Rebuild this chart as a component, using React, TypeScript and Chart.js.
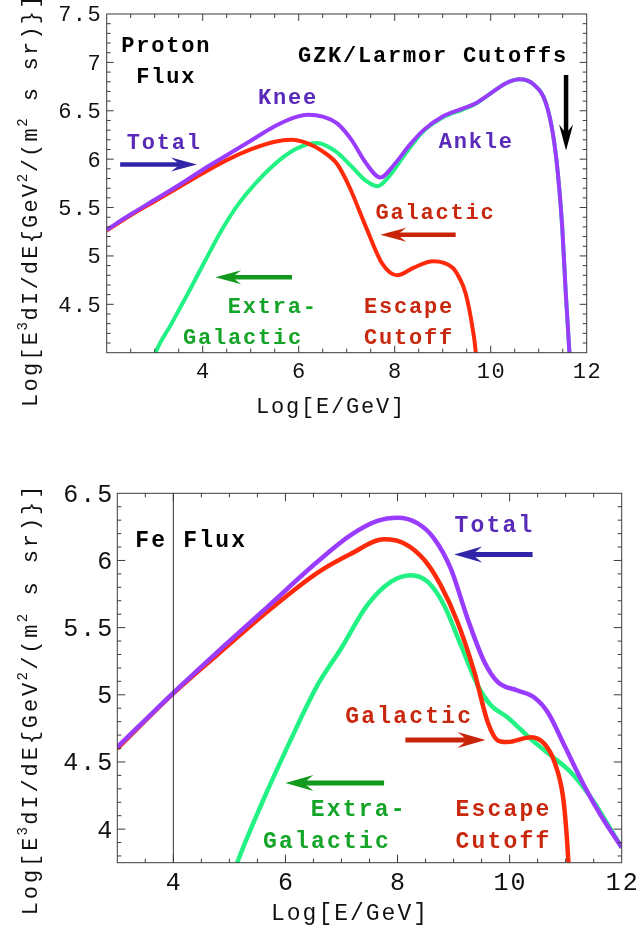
import React, { useEffect, useRef } from "react";
import { Chart, registerables } from "chart.js";

Chart.register(...registerables);

// ---------------- Proton flux panel (top) ----------------
const protonTotalX = [2.0, 2.5, 3.0, 3.5, 4.0, 4.5, 5.0, 5.5, 5.9, 6.2, 6.5, 6.8, 7.1, 7.4, 7.7, 8.0, 8.3, 8.6, 9.0, 9.4, 9.7, 10.0, 10.3, 10.6, 10.9, 11.15, 11.3, 11.4, 11.49, 11.56, 11.64, 11.67];
const protonTotalY = [5.27, 5.43, 5.58, 5.73, 5.89, 6.04, 6.19, 6.34, 6.43, 6.46, 6.44, 6.37, 6.2, 5.96, 5.81, 5.95, 6.14, 6.3, 6.44, 6.52, 6.58, 6.68, 6.78, 6.825, 6.77, 6.58, 6.25, 5.85, 5.3, 4.65, 4.0, 3.7];

const protonGalX = [2.0, 2.5, 3.0, 3.5, 4.0, 4.5, 5.0, 5.5, 5.85, 6.2, 6.5, 6.8, 7.05, 7.4, 7.74, 8.05, 8.4, 8.8, 9.2, 9.34, 9.48, 9.62, 9.69, 9.71];
const protonGalY = [5.262, 5.42, 5.565, 5.71, 5.855, 5.99, 6.1, 6.18, 6.2, 6.16, 6.08, 5.95, 5.72, 5.3, 4.92, 4.8, 4.88, 4.945, 4.88, 4.78, 4.61, 4.26, 3.99, 3.8];

const protonExtraX = [2.97, 3.0, 3.35, 3.7, 4.05, 4.4, 4.75, 5.1, 5.65, 6.0, 6.38, 6.77, 7.11, 7.39, 7.64, 7.88, 8.23, 8.58, 9.0, 9.4, 9.7, 10.0, 10.3, 10.6, 10.9, 11.15, 11.3, 11.4, 11.49, 11.56, 11.64, 11.67];
const protonExtraY = [3.93, 3.98, 4.3, 4.62, 4.95, 5.27, 5.54, 5.75, 6.01, 6.12, 6.166, 6.08, 5.92, 5.78, 5.72, 5.82, 6.06, 6.28, 6.43, 6.51, 6.575, 6.68, 6.78, 6.825, 6.77, 6.58, 6.25, 5.85, 5.3, 4.65, 4.0, 3.7];

const protonXRange = [2, 12];
const protonYRange = [4, 7.5];
const protonXLabels = [4, 6, 8, 10, 12];
const protonYLabels = [4.5, 5, 5.5, 6, 6.5, 7, 7.5];

// ---------------- Fe flux panel (bottom) ----------------
const feTotalX = [3.0, 4.0, 4.79, 5.68, 6.57, 7.17, 7.64, 8.0, 8.36, 8.65, 8.95, 9.25, 9.55, 9.79, 10.14, 10.44, 10.68, 10.98, 11.33, 11.63, 12.0];
const feTotalY = [4.61, 5.015, 5.32, 5.654, 5.99, 6.19, 6.294, 6.318, 6.276, 6.165, 5.94, 5.567, 5.244, 5.094, 5.032, 4.98, 4.87, 4.62, 4.323, 4.1, 3.863];

const feGalX = [3.0, 4.0, 4.79, 5.68, 6.57, 7.17, 7.76, 8.12, 8.48, 8.77, 9.07, 9.37, 9.61, 9.79, 9.96, 10.38, 10.62, 10.8, 10.95, 11.01, 11.05, 11.07];
const feGalY = [4.6, 5.01, 5.3, 5.62, 5.908, 6.05, 6.157, 6.127, 6.003, 5.816, 5.542, 5.17, 4.796, 4.66, 4.648, 4.684, 4.635, 4.5, 4.249, 4.0, 3.75, 3.6];

const feExtraX = [5.1, 5.14, 5.56, 6.1, 6.57, 6.99, 7.46, 7.88, 8.24, 8.54, 8.83, 9.13, 9.43, 9.67, 9.96, 10.38, 10.74, 11.1, 11.45, 12.0];
const feExtraY = [3.7, 3.75, 4.174, 4.67, 5.07, 5.343, 5.667, 5.84, 5.89, 5.84, 5.667, 5.369, 5.07, 4.92, 4.833, 4.67, 4.547, 4.42, 4.235, 3.863];

const feXRange = [3, 12];
const feYRange = [3.75, 6.5];
const feXLabels = [4, 6, 8, 10, 12];
const feYLabels = [4, 4.5, 5, 5.5, 6, 6.5];
const feMarkerX = 4;

const xMinorStep = 0.5;
const yMinorStep = 0.1;

// ---------------- styles ----------------
const PURPLE = "#9a3cff";
const RED = "#ff2a0a";
const GREEN = "#22f283";
const PURPLE_TEXT = "#5a2ab8";
const RED_TEXT = "#c8280e";
const GREEN_TEXT = "#14a428";
const BLUE_ARROW = "#3224a8";
const RED_ARROW = "#c82408";
const GREEN_ARROW = "#129a1e";
const MONO = '"Liberation Mono", "DejaVu Sans Mono", monospace';

interface TextNote { text: string; x: number; y: number; color: string; }
interface ArrowNote { x0: number; y0: number; x1: number; y1: number; color: string; }
interface Series { label: string; xs: number[]; ys: number[]; color: string; }
interface Panel {
  canvasH: number;
  area: { left: number; top: number; right: number; bottom: number };
  xRange: number[]; yRange: number[];
  xLabels: number[]; yLabels: number[];
  series: Series[];
  lineWidth: number;
  tickSize: number; tickPitch: number; yLabelGap: number; xLabelDrop: number;
  majorLen: number; minorLen: number;
  noteSize: number; notePitch: number;
  texts: TextNote[]; arrows: ArrowNote[];
  arrowWidth: number; headLen: number; headHalf: number;
  xTitle: { x: number; y: number; size: number; pitch: number };
  yTitle: { x: number; y: number; size: number; pitch: number; supSize: number; supPitch: number; supRaise: number };
  vline?: number;
}

const protonPanel: Panel = {
  canvasH: 440,
  area: { left: 106.7, top: 14, right: 586.7, bottom: 352.7 },
  xRange: protonXRange, yRange: protonYRange,
  xLabels: protonXLabels, yLabels: protonYLabels,
  series: [
    { label: "Total", xs: protonTotalX, ys: protonTotalY, color: PURPLE },
    { label: "Galactic", xs: protonGalX, ys: protonGalY, color: RED },
    { label: "Extra-Galactic", xs: protonExtraX, ys: protonExtraY, color: GREEN },
  ],
  lineWidth: 4,
  tickSize: 22, tickPitch: 14.7, yLabelGap: 6.7, xLabelDrop: 18,
  majorLen: 7, minorLen: 4,
  noteSize: 22, notePitch: 15,
  texts: [
    { text: "Proton", x: 3.22, y: 7.18, color: "#000" },
    { text: "Flux", x: 3.22, y: 6.86, color: "#000" },
    { text: "GZK/Larmor Cutoffs", x: 8.78, y: 7.08, color: "#000" },
    { text: "Knee", x: 5.76, y: 6.65, color: PURPLE_TEXT },
    { text: "Total", x: 3.18, y: 6.18, color: PURPLE_TEXT },
    { text: "Ankle", x: 9.68, y: 6.19, color: PURPLE_TEXT },
    { text: "Galactic", x: 8.83, y: 5.46, color: RED_TEXT },
    { text: "Extra-", x: 5.44, y: 4.49, color: GREEN_TEXT },
    { text: "Galactic", x: 4.82, y: 4.17, color: GREEN_TEXT },
    { text: "Escape", x: 8.28, y: 4.49, color: RED_TEXT },
    { text: "Cutoff", x: 8.28, y: 4.17, color: RED_TEXT },
  ],
  arrows: [
    { x0: 2.28, y0: 5.945, x1: 3.88, y1: 5.945, color: BLUE_ARROW },
    { x0: 9.27, y0: 5.22, x1: 7.7, y1: 5.22, color: RED_ARROW },
    { x0: 5.86, y0: 4.78, x1: 4.26, y1: 4.78, color: GREEN_ARROW },
    { x0: 11.57, y0: 6.87, x1: 11.57, y1: 6.09, color: "#000" },
  ],
  arrowWidth: 4.5, headLen: 26, headHalf: 7,
  xTitle: { x: 330, y: 406, size: 22, pitch: 15 },
  yTitle: { x: 37, y: 408, size: 22, pitch: 15.4, supSize: 14, supPitch: 9.5, supRaise: 10 },
};

const fePanel: Panel = {
  canvasH: 490,
  area: { left: 117.3, top: 53.3, right: 621.7, bottom: 422.7 },
  xRange: feXRange, yRange: feYRange,
  xLabels: feXLabels, yLabels: feYLabels,
  series: [
    { label: "Total", xs: feTotalX, ys: feTotalY, color: PURPLE },
    { label: "Galactic", xs: feGalX, ys: feGalY, color: RED },
    { label: "Extra-Galactic", xs: feExtraX, ys: feExtraY, color: GREEN },
  ],
  lineWidth: 4.5,
  tickSize: 25, tickPitch: 17, yLabelGap: 5.6, xLabelDrop: 19,
  majorLen: 8, minorLen: 4,
  noteSize: 23, notePitch: 16,
  texts: [
    { text: "Fe Flux", x: 4.3, y: 6.16, color: "#000" },
    { text: "Total", x: 9.71, y: 6.267, color: PURPLE_TEXT },
    { text: "Galactic", x: 8.19, y: 4.85, color: RED_TEXT },
    { text: "Extra-", x: 7.29, y: 4.153, color: GREEN_TEXT },
    { text: "Galactic", x: 6.72, y: 3.916, color: GREEN_TEXT },
    { text: "Escape", x: 9.87, y: 4.153, color: RED_TEXT },
    { text: "Cutoff", x: 9.87, y: 3.916, color: RED_TEXT },
  ],
  arrows: [
    { x0: 10.41, y0: 6.045, x1: 9.01, y1: 6.045, color: BLUE_ARROW },
    { x0: 8.14, y0: 4.664, x1: 9.57, y1: 4.664, color: RED_ARROW },
    { x0: 7.76, y0: 4.343, x1: 6.0, y1: 4.343, color: GREEN_ARROW },
  ],
  arrowWidth: 5, headLen: 28, headHalf: 8,
  xTitle: { x: 349, y: 472.5, size: 23, pitch: 15.8 },
  yTitle: { x: 36.7, y: 476.7, size: 22, pitch: 16.1, supSize: 14, supPitch: 10, supRaise: 10 },
  vline: feMarkerX,
};

const Y_TITLE_SEGMENTS: { t: string; sup: boolean }[] = [
  { t: "Log[E", sup: false },
  { t: "3", sup: true },
  { t: "dI/dE{GeV", sup: false },
  { t: "2", sup: true },
  { t: "/(m", sup: false },
  { t: "2", sup: true },
  { t: " s sr)}]", sup: false },
];

function drawSpaced(ctx: CanvasRenderingContext2D, text: string, x: number, y: number, pitch: number, align: "left" | "center" | "right") {
  const n = text.length;
  const start = align === "center" ? x - (n * pitch) / 2 : align === "right" ? x - n * pitch : x;
  ctx.textAlign = "center";
  for (let i = 0; i < n; i++) {
    const ch = text[i];
    if (ch !== " ") ctx.fillText(ch, start + pitch * (i + 0.5), y);
  }
  return n * pitch;
}

function makeDecor(p: Panel) {
  return {
    id: "decor",
    afterDraw(chart: any) {
      const ctx: CanvasRenderingContext2D = chart.ctx;
      const { left, right, top, bottom } = chart.chartArea;
      const xs = chart.scales.x;
      const ys = chart.scales.y;
      ctx.save();
      ctx.textBaseline = "alphabetic";

      if (p.vline !== undefined) {
        const vx = xs.getPixelForValue(p.vline);
        ctx.strokeStyle = "#333";
        ctx.lineWidth = 1;
        ctx.beginPath();
        ctx.moveTo(vx, top);
        ctx.lineTo(vx, bottom);
        ctx.stroke();
      }

      ctx.strokeStyle = "#3a3a3a";
      ctx.lineWidth = 1;
      ctx.strokeRect(left, top, right - left, bottom - top);

      ctx.beginPath();
      const x0 = Math.ceil(p.xRange[0] / xMinorStep + 1e-6);
      const x1 = Math.floor(p.xRange[1] / xMinorStep - 1e-6);
      for (let i = x0; i <= x1; i++) {
        const v = i * xMinorStep;
        const major = Math.abs(v / 2 - Math.round(v / 2)) < 1e-6;
        const len = major ? p.majorLen : p.minorLen;
        const px = xs.getPixelForValue(v);
        ctx.moveTo(px, bottom);
        ctx.lineTo(px, bottom - len);
        ctx.moveTo(px, top);
        ctx.lineTo(px, top + len);
      }
      const y0 = Math.ceil(p.yRange[0] / yMinorStep + 1e-6);
      const y1 = Math.floor(p.yRange[1] / yMinorStep - 1e-6);
      for (let i = y0; i <= y1; i++) {
        const v = i * yMinorStep;
        const major = i % 5 === 0;
        const len = major ? p.majorLen : p.minorLen;
        const py = ys.getPixelForValue(v);
        ctx.moveTo(left, py);
        ctx.lineTo(left + len, py);
        ctx.moveTo(right, py);
        ctx.lineTo(right - len, py);
      }
      ctx.stroke();

      ctx.fillStyle = "#111";
      ctx.font = `${p.tickSize}px ${MONO}`;
      const capOff = 0.34 * p.tickSize;
      p.xLabels.forEach((v) => {
        drawSpaced(ctx, String(v), xs.getPixelForValue(v), bottom + p.xLabelDrop + capOff, p.tickPitch, "center");
      });
      p.yLabels.forEach((v) => {
        drawSpaced(ctx, String(v), left - p.yLabelGap + 1.5, ys.getPixelForValue(v) + capOff, p.tickPitch, "right");
      });

      ctx.font = `${p.xTitle.size}px ${MONO}`;
      drawSpaced(ctx, "Log[E/GeV]", p.xTitle.x, p.xTitle.y + 0.34 * p.xTitle.size, p.xTitle.pitch, "center");

      ctx.save();
      ctx.translate(p.yTitle.x, p.yTitle.y);
      ctx.rotate(-Math.PI / 2);
      let cx = 0;
      Y_TITLE_SEGMENTS.forEach((seg) => {
        if (seg.sup) {
          ctx.font = `${p.yTitle.supSize}px ${MONO}`;
          cx += drawSpaced(ctx, seg.t, cx, -p.yTitle.supRaise, p.yTitle.supPitch, "left");
        } else {
          ctx.font = `${p.yTitle.size}px ${MONO}`;
          cx += drawSpaced(ctx, seg.t, cx, 0, p.yTitle.pitch, "left");
        }
      });
      ctx.restore();

      p.arrows.forEach((a) => {
        const sx = xs.getPixelForValue(a.x0);
        const sy = ys.getPixelForValue(a.y0);
        const tx = xs.getPixelForValue(a.x1);
        const ty = ys.getPixelForValue(a.y1);
        const ang = Math.atan2(ty - sy, tx - sx);
        const len = Math.hypot(tx - sx, ty - sy);
        ctx.save();
        ctx.translate(sx, sy);
        ctx.rotate(ang);
        ctx.fillStyle = a.color;
        ctx.strokeStyle = a.color;
        ctx.lineWidth = p.arrowWidth;
        ctx.beginPath();
        ctx.moveTo(0, 0);
        ctx.lineTo(len - p.headLen * 0.6, 0);
        ctx.stroke();
        ctx.beginPath();
        ctx.moveTo(len, 0);
        ctx.lineTo(len - p.headLen, p.headHalf);
        ctx.lineTo(len - p.headLen * 0.65, 0);
        ctx.lineTo(len - p.headLen, -p.headHalf);
        ctx.closePath();
        ctx.fill();
        ctx.restore();
      });

      ctx.font = `bold ${p.noteSize}px ${MONO}`;
      p.texts.forEach((t) => {
        ctx.fillStyle = t.color;
        drawSpaced(ctx, t.text, xs.getPixelForValue(t.x), ys.getPixelForValue(t.y) + 0.34 * p.noteSize, p.notePitch, "center");
      });

      ctx.restore();
    },
  };
}

function FluxChart({ panel }: { panel: Panel }) {
  const ref = useRef<HTMLCanvasElement | null>(null);
  useEffect(() => {
    if (!ref.current) return;
    const p = panel;
    const chart = new Chart(ref.current, {
      type: "line",
      data: {
        datasets: p.series.map((s) => ({
          label: s.label,
          data: s.xs.map((x, i) => ({ x, y: s.ys[i] })),
          borderColor: s.color,
          backgroundColor: s.color,
          borderWidth: p.lineWidth,
          pointRadius: 0,
          cubicInterpolationMode: "monotone" as const,
          fill: false,
          clip: 0,
        })),
      },
      options: {
        responsive: false,
        animation: false,
        events: [],
        layout: { padding: { left: 0, top: p.area.top, right: 637 - p.area.right, bottom: 0 } },
        plugins: { legend: { display: false }, tooltip: { enabled: false } },
        scales: {
          x: {
            type: "linear",
            min: p.xRange[0],
            max: p.xRange[1],
            grid: { display: false },
            border: { display: false },
            ticks: { display: false },
            afterFit: (s: any) => { s.height = p.canvasH - p.area.bottom; },
          },
          y: {
            type: "linear",
            min: p.yRange[0],
            max: p.yRange[1],
            grid: { display: false },
            border: { display: false },
            ticks: { display: false },
            afterFit: (s: any) => { s.width = p.area.left; },
          },
        },
      },
      plugins: [makeDecor(p)],
    } as any);
    return () => chart.destroy();
  }, [panel]);
  return <canvas ref={ref} width={637} height={panel.canvasH} style={{ display: "block", width: 637, height: panel.canvasH }} />;
}

export default function App() {
  return (
    <div style={{ position: "absolute", left: 0, top: 0, width: 637, height: 930, background: "#fff" }}>
      <FluxChart panel={protonPanel} />
      <FluxChart panel={fePanel} />
    </div>
  );
}
